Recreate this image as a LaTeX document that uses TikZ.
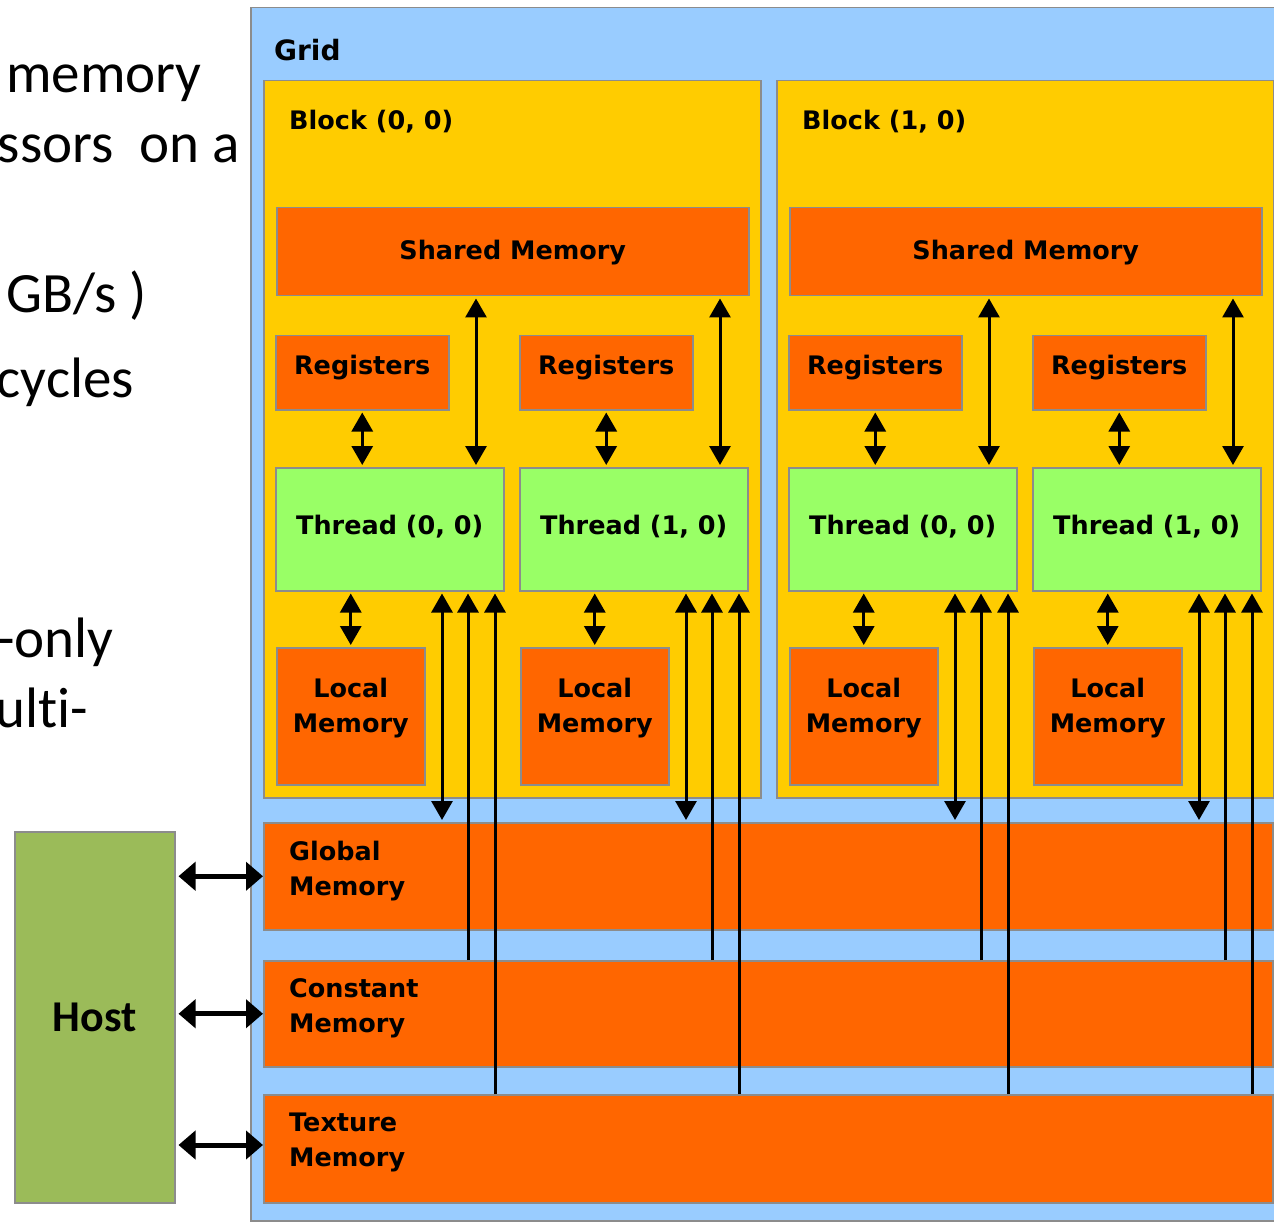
\documentclass[tikz,border=0pt]{standalone}
\usepackage{fontspec}
\setmainfont{DejaVu Sans}
\newfontfamily\calib[Ligatures=NoCommon]{Carlito}
\usetikzlibrary{arrows.meta,calc}

\definecolor{gridblue}{HTML}{99CCFF}
\definecolor{blockyel}{HTML}{FFCC00}
\definecolor{memorange}{HTML}{FF6600}
\definecolor{thrgreen}{HTML}{99FF66}
\definecolor{hostgreen}{HTML}{9BBB59}
\definecolor{edgegray}{HTML}{8C8C8C}

\begin{document}
\begin{tikzpicture}[x=1pt,y=-1pt,
  lbl/.style={font=\fontsize{25.5}{35}\selectfont\bfseries, text=black, inner sep=0pt},
  box/.style={draw=edgegray, line width=1.5pt, anchor=north west, inner sep=0pt,
              font=\fontsize{25.5}{35}\selectfont\bfseries, text=black},
  slide/.style={font=\calib\fontsize{57}{68}\selectfont, anchor=base east, inner sep=0pt},
  tip/.tip={Triangle[width=21pt,length=19pt]},
  ar/.style={line width=3pt, shorten >=2pt, shorten <=2pt},
  dbl/.style={ar, tip-tip},
  upar/.style={ar, shorten <=0pt, -tip},
  hostar/.style={line width=5pt, {Triangle[width=28pt,length=17pt]}-{Triangle[width=28pt,length=17pt]}}]

\useasboundingbox (0,0) rectangle (1274,1222);
\clip (0,0) rectangle (1274,1222);

% slide text running in from the left
\node[slide] (s1) at (202,93) {memory};
\node[slide] (s2) at (240,163) {ssors\ \ on a};
\node[slide] (s3) at (147,313) {GB/s )};
\node[slide] (s4) at (134,397) {cycles};
\node[slide] (s5) at (114,657) {-only};
\node[slide] (s6) at (88,727) {ult\kern0pt i-};

% grid frame
\node[box, fill=gridblue, minimum width=1060pt, minimum height=1213pt] (grid) at (250,7) {};
\node[lbl, anchor=west, font=\fontsize{28}{35}\selectfont\bfseries] (gridl) at (274,50) {Grid};

% blocks with shared memory, registers, threads and local memory
\foreach \b/\bx in {0/0,1/513}{
  \node[box, fill=blockyel, minimum width=497pt, minimum height=717pt] (blk\b) at ({263+\bx},80) {};
  \node[lbl, anchor=west] (blkl\b) at ({289+\bx},122) {Block (\b, 0)};
  \node[box, fill=memorange, minimum width=472pt, minimum height=88pt] (sm\b) at ({276+\bx},207) {};
  \node[lbl] (sml\b) at ($(sm\b.center)+(0,1)$) {Shared Memory};
  \foreach \t/\tx in {0/0,1/244}{
    \node[box, fill=memorange, minimum width=173pt, minimum height=74pt] (rg\b\t) at ({275+\bx+\tx},335) {};
    \node[lbl] (rgl\b\t) at ($(rg\b\t.center)+(0,-5)$) {Registers};
    \node[box, fill=thrgreen, minimum width=228pt, minimum height=123pt] (th\b\t) at ({275+\bx+\tx},467) {};
    \node[lbl] (thl\b\t) at ($(th\b\t.center)+(0,-3)$) {Thread (\t, 0)};
    \node[box, fill=memorange, minimum width=148pt, minimum height=137pt] (lm\b\t) at ({276+\bx+\tx},647) {};
    \node[lbl, align=center] (lml\b\t) at ($(lm\b\t.center)+(0,-8)$) {Local\\Memory};
  }
}

% device-wide memories
\node[box, fill=memorange, minimum width=1009pt, minimum height=107pt] (gm) at (263,822) {};
\node[lbl, anchor=west, align=left] (gml) at (289,871.5) {Global\\Memory};
\node[box, fill=memorange, minimum width=1009pt, minimum height=106pt] (cm) at (263,960) {};
\node[lbl, anchor=west, align=left] (cml) at (289,1008.5) {Constant\\Memory};
\node[box, fill=memorange, minimum width=1009pt, minimum height=108pt] (tm) at (263,1094) {};
\node[lbl, anchor=west, align=left] (tml) at (289,1142.5) {Texture\\Memory};

% host
\node[draw=edgegray, line width=1.5pt, fill=hostgreen, minimum width=160pt, minimum height=371pt,
      anchor=north west, inner sep=0pt, font=\calib\bfseries\fontsize{44}{50}\selectfont] (host) at (14,831) {Host};

% per-thread connections
\foreach \b/\bx in {0/0,1/513}{
  \foreach \t/\tx in {0/0,1/244}{
    \coordinate (sx\b\t) at ({476+\bx+\tx},0);
    \coordinate (gx\b\t) at ({442+\bx+\tx},0);
    \coordinate (cx\b\t) at ({468+\bx+\tx},0);
    \coordinate (tx\b\t) at ({495+\bx+\tx},0);
    \draw[dbl] (rg\b\t.south) -- (rg\b\t.south |- th\b\t.north);
    \draw[dbl] (sx\b\t |- sm\b.south) -- (sx\b\t |- th\b\t.north);
    \draw[dbl] (lm\b\t.north |- th\b\t.south) -- (lm\b\t.north);
    \draw[dbl] (gx\b\t |- th\b\t.south) -- (gx\b\t |- gm.north);
    \draw[upar] (cx\b\t |- cm.north) -- (cx\b\t |- th\b\t.south);
    \draw[upar] (tx\b\t |- tm.north) -- (tx\b\t |- th\b\t.south);
  }
}

% host transfers
\draw[hostar, shorten <=3pt] (host.east |- gm.west) -- (gm.west);
\draw[hostar, shorten <=3pt] (host.east |- cm.west) -- (cm.west);
\draw[hostar, shorten <=3pt] (host.east |- 0,1145) -- (tm.west |- 0,1145);
\end{tikzpicture}
\end{document}
